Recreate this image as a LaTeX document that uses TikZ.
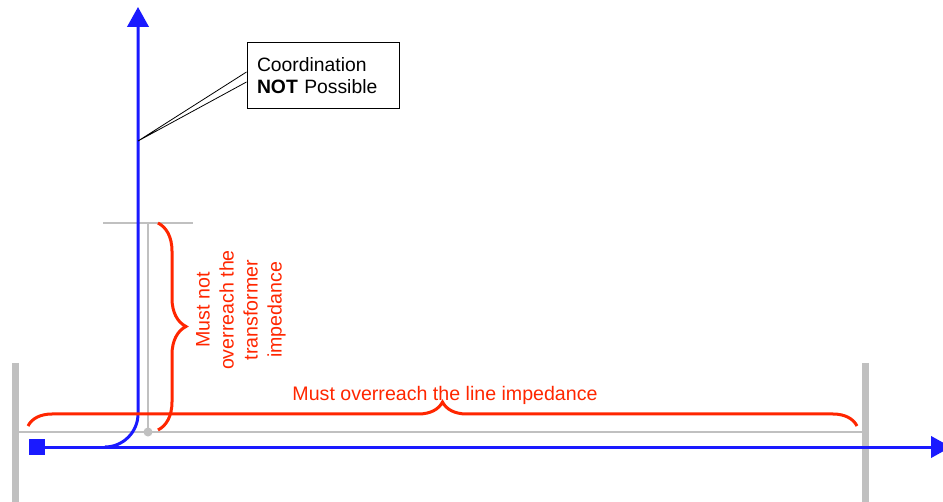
\documentclass[tikz,border=0pt]{standalone}
\usepackage{fontspec}
\setmainfont{Liberation Sans}
\usetikzlibrary{arrows.meta,decorations.pathreplacing,calc}
\definecolor{relayblue}{RGB}{26,26,255}
\definecolor{reachred}{RGB}{255,38,0}
\definecolor{busgray}{RGB}{192,192,192}
\tikzset{
  busbar/.style={busgray, line width=5.25pt},
  impline/.style={busgray, line width=2pt},
  zoneline/.style={relayblue, line width=2.25pt},
  zonetip/.style={-{Triangle[length=15pt,width=16pt]}},
  reachbrace/.style={reachred, line width=2.25pt, decorate, decoration={brace, amplitude=#1}},
  reachbrace/.default=18pt,
  reachlabel/.style={reachred, font=\fontsize{14.7}{18}\selectfont},
}
\begin{document}
\begin{tikzpicture}[x=0.75pt,y=-0.75pt]
\useasboundingbox (0,0) rectangle (943,502);

% Bus bars at both ends of the line
\draw [busbar] (15,363) -- (15,502);
\draw [busbar] (865,363) -- (865,502);

% Line and transformer impedance
\draw [impline] (18,432) -- (862,432);
\draw [impline] (148,223) -- (148,432);
\draw [impline] (103,223) -- (193,223);
\fill [busgray] (148,432) circle (3.4pt);

% Relay and its zone reach
\node [fill=relayblue, minimum size=12pt, inner sep=0pt] (relay) at (37,447) {};
\coordinate (fwd) at (951,447);
\draw [zoneline, zonetip] (relay.east) -- (fwd);

\coordinate (knee) at (105,447);
\coordinate (up) at (138,7);
\draw [zoneline, zonetip] (knee) .. controls (123,447) and (138,432) .. (138,414) -- (up);

% Reach braces
\draw [reachbrace=18pt] (28,426) -- (857,426);
\node [reachlabel, anchor=base] (linereach) at (445,401) {Must overreach the line impedance};

\draw [reachbrace=21pt] (158,223) -- (158,430);
\node [reachlabel, rotate=90, align=center] (traforeach) at (241,310) {Must not\\overreach the\\transformer\\impedance};

% Callout
\node [draw, line width=0.75pt, minimum width=114pt, minimum height=49.5pt, text width=99pt,
  inner xsep=7.5pt, align=left, font=\fontsize{14.5}{16.5}\selectfont] (callout) at (323,76)
  {Coordination\\\textbf{NOT} Possible};
\coordinate (pointer) at (138,141);
\draw [line width=0.6pt] ($(callout.west)+(0,-4)$) -- (pointer) -- ($(callout.west)+(0,6)$);

\end{tikzpicture}
\end{document}
